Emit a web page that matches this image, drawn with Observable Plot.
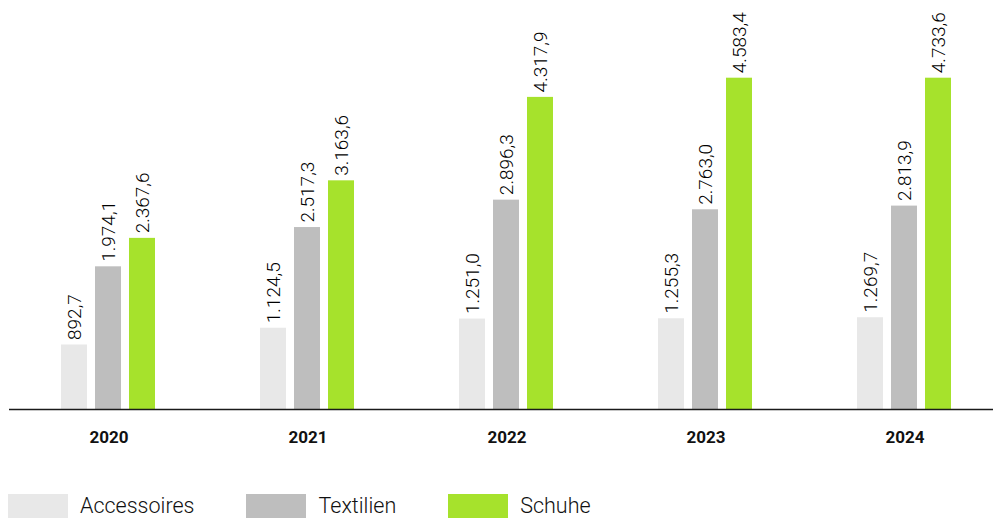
<!DOCTYPE html>
<html>
<head>
<meta charset="utf-8">
<script src="https://cdn.jsdelivr.net/npm/d3@7"></script>
<script src="https://cdn.jsdelivr.net/npm/@observablehq/plot@0.6"></script>
<style>
  html, body { margin: 0; padding: 0; background: #fff; }
  body { width: 993px; height: 521px; overflow: hidden; font-family: Roboto, "Noto Sans", sans-serif; }
  #legend { display: flex; align-items: center; margin-top: 33px; padding-left: 8px; }
  .item { display: flex; align-items: center; margin-right: 52px; }
  .sw { width: 60px; height: 24px; margin-right: 12px; }
  .lab { font-size: 21.5px; color: #111; font-weight: 300; }
</style>
</head>
<body>
<div id="chart"></div>
<div id="legend"></div>
<script>
const years = ["2020", "2021", "2022", "2023", "2024"];
const categories = ["Accessoires", "Textilien", "Schuhe"];
const accessoires = [892.7, 1124.5, 1251.0, 1255.3, 1269.7];
const textilien = [1974.1, 2517.3, 2896.3, 2763.0, 2813.9];
const schuhe = [2367.6, 3163.6, 4317.9, 4583.4, 4733.6];
const colors = ["#e8e8e8", "#bebebe", "#a6e22c"];

const series = [accessoires, textilien, schuhe];
const data = years.flatMap((year, i) =>
  categories.map((cat, j) => ({year, cat, value: series[j][i]}))
);

const de = d3.formatLocale({decimal: ",", thousands: ".", grouping: [3], currency: ["", " €"]});
const fmt = de.format(",.1f");

const chart = Plot.plot({
  width: 993,
  height: 460,
  marginTop: 77.7,
  marginBottom: 51,
  marginLeft: 20,
  marginRight: 0,
  style: {fontFamily: "Roboto, 'Noto Sans', sans-serif", background: "#fff"},
  fx: {domain: years, paddingInner: 0.4, paddingOuter: 0.136, label: null},
  x: {domain: categories, paddingInner: 0.2286, paddingOuter: 0.324, axis: null},
  y: {domain: [0, 4583.4], clamp: true, axis: null},
  color: {domain: categories, range: colors},
  marks: [
    Plot.barY(data, {fx: "year", x: "cat", y: "value", fill: "cat"}),
    Plot.text(data, {
      fx: "year", x: "cat", y: "value",
      text: d => fmt(d.value),
      rotate: -90, textAnchor: "start", lineAnchor: "middle",
      dy: -5, fontSize: 19, fontWeight: 300, fill: "#000"
    }),
    Plot.ruleY([0], {stroke: "#1a1a1a", strokeWidth: 1.6, insetLeft: -40, insetRight: -40}),
    Plot.axisFx({anchor: "bottom", tickSize: 0, tickPadding: 21, fontSize: 17, fontWeight: "bold", fill: "#111", label: null})
  ]
});
document.getElementById("chart").appendChild(chart);

const legend = document.getElementById("legend");
categories.forEach((c, i) => {
  const item = document.createElement("div");
  item.className = "item";
  const sw = document.createElement("div");
  sw.className = "sw";
  sw.style.background = colors[i];
  const lab = document.createElement("span");
  lab.className = "lab";
  lab.textContent = c;
  item.appendChild(sw);
  item.appendChild(lab);
  legend.appendChild(item);
});
</script>
</body>
</html>
